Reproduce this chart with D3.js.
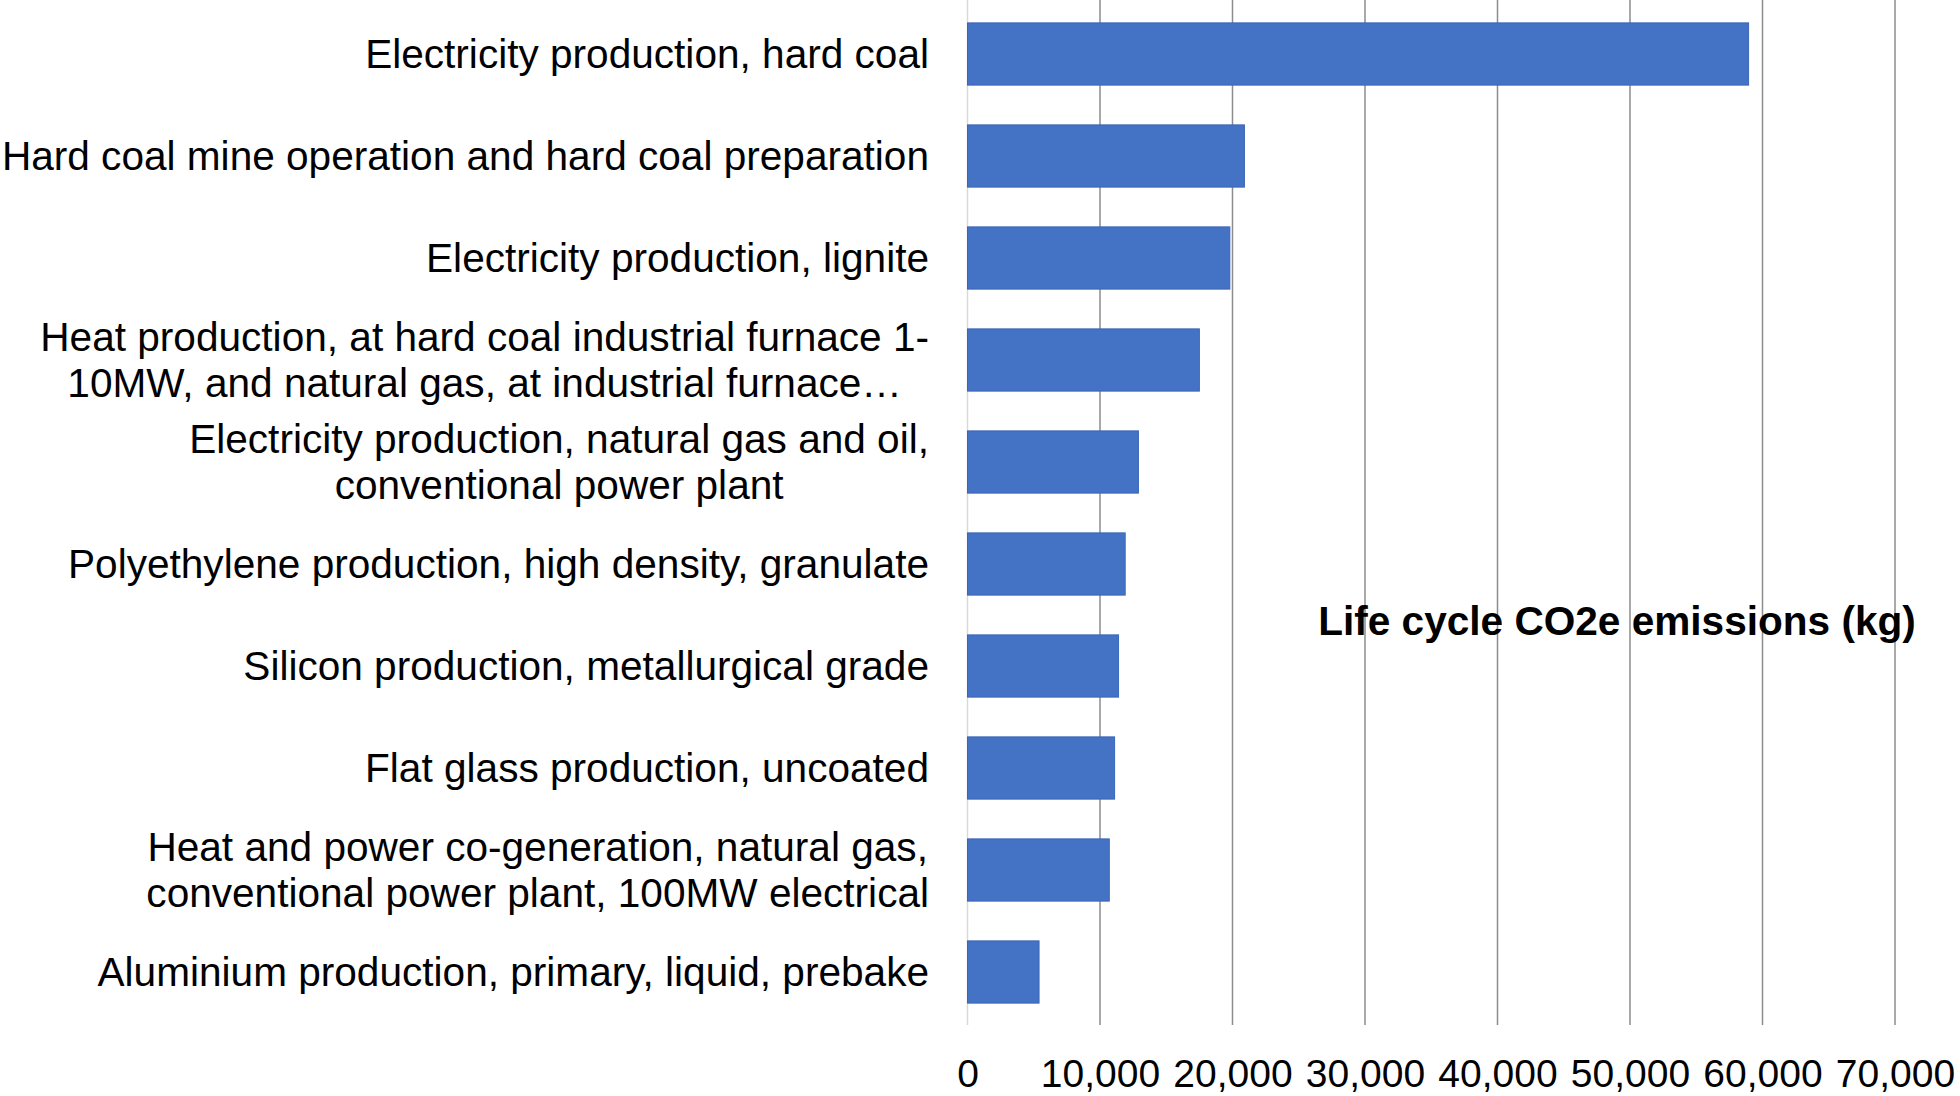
<!DOCTYPE html>
<html>
<head>
<meta charset="utf-8">
<script src="https://cdn.jsdelivr.net/npm/d3@7"></script>
<style>
  body { margin: 0; background: #fff; }
  svg { display: block; font-family: "Liberation Sans", Arial, sans-serif; }
</style>
</head>
<body>
<div id="chart"></div>
<script>
// Life cycle CO2e emissions by process, horizontal bar chart

const categories = [
    "Electricity production, hard coal",
    "Hard coal mine operation and hard coal preparation",
    "Electricity production, lignite",
    "Heat production, at hard coal industrial furnace 1-\n10MW, and natural gas, at industrial furnace\u2026",
    "Electricity production, natural gas and oil,\nconventional power plant",
    "Polyethylene production, high density, granulate",
    "Silicon production, metallurgical grade",
    "Flat glass production, uncoated",
    "Heat and power co-generation, natural gas,\nconventional power plant, 100MW electrical",
    "Aluminium production, primary, liquid, prebake"
];
const values = [58950, 20900, 19800, 17500, 12900, 11900, 11400, 11100, 10700, 5400];
const xTicks = [0, 10000, 20000, 30000, 40000, 50000, 60000, 70000];
const axisTitle = "Life cycle CO2e emissions (kg)";

const data = categories.map((c, i) => ({ name: c, value: values[i] }));

const width = 1960, height = 1096;

const svg = d3.select("#chart")
    .append("svg")
    .attr("width", width)
    .attr("height", height);

// Scales
const x = d3.scaleLinear()
    .domain([0, 70000])
    .range([967.5, 1895]);

const y = d3.scaleBand()
    .domain(categories)
    .range([3, 1023])
    .paddingInner(0.39)
    .paddingOuter(0.195);

// Gridlines (the zero line is lighter)
svg.append("g")
    .selectAll("line")
    .data(xTicks)
    .enter()
    .append("line")
    .attr("x1", d => x(d))
    .attr("x2", d => x(d))
    .attr("y1", 0)
    .attr("y2", 1025)
    .attr("stroke", d => d === 0 ? "#d9d9d9" : "#8c8c8c")
    .attr("stroke-width", 1.5);

// Bars
svg.append("g")
    .selectAll("rect")
    .data(data)
    .enter()
    .append("rect")
    .attr("x", x(0))
    .attr("y", d => y(d.name))
    .attr("width", d => x(d.value) - x(0))
    .attr("height", y.bandwidth())
    .attr("fill", "#4472C4")
    .attr("stroke", "#3b66b8")
    .attr("stroke-width", 1);

// X axis labels
const xAxis = svg.append("g")
    .attr("transform", "translate(0,1056)")
    .call(d3.axisBottom(x).tickValues(xTicks).tickFormat(d3.format(",")).tickSize(0));
xAxis.select(".domain").remove();
xAxis.selectAll("text")
    .attr("font-family", "Liberation Sans, Arial, sans-serif")
    .attr("font-size", "39px")
    .attr("fill", "#000");

// Category labels, multi-line centred within a right-aligned block
const labelRight = 929;
const lineHeight = 46;
const labels = svg.append("g")
    .attr("font-size", "40.6px")
    .attr("fill", "#000");

data.forEach(d => {
    const lines = d.name.split("\n");
    const cy = y(d.name) + y.bandwidth() / 2;
    const t = labels.append("text")
        .attr("text-anchor", "middle")
        .attr("y", cy - (lines.length - 1) * lineHeight / 2 + 14);
    const spans = lines.map((ln, i) => t.append("tspan")
        .attr("dy", i === 0 ? 0 : lineHeight)
        .text(ln));
    const maxW = d3.max(spans, s => s.node().getComputedTextLength());
    spans.forEach(s => s.attr("x", labelRight - maxW / 2));
});

// Axis title placed inside the plot
svg.append("text")
    .attr("x", 1617)
    .attr("y", 635)
    .attr("text-anchor", "middle")
    .attr("font-size", "40.6px")
    .attr("font-weight", "bold")
    .attr("fill", "#000")
    .text(axisTitle);
</script>
</body>
</html>
